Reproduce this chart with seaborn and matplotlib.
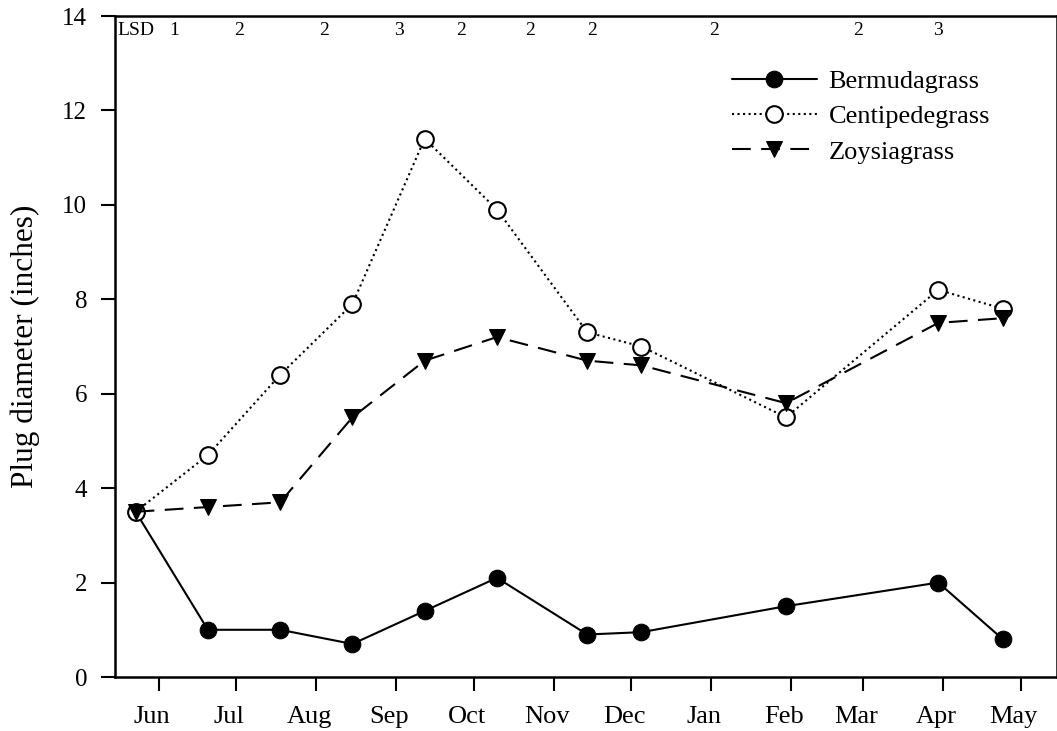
import pandas as pd
import seaborn as sns
import matplotlib.pyplot as plt
import matplotlib.dates as mdates
from matplotlib.transforms import ScaledTranslation

# sampling dates and plug diameters (inches)
sample_dates = ["2004-05-23", "2004-06-20", "2004-07-18", "2004-08-15", "2004-09-12",
                "2004-10-10", "2004-11-14", "2004-12-05", "2005-01-30", "2005-03-30",
                "2005-04-24"]
bermuda = [3.5, 1.0, 1.0, 0.7, 1.4, 2.1, 0.9, 0.95, 1.5, 2.0, 0.8]
centipede = [3.5, 4.7, 6.4, 7.9, 11.4, 9.9, 7.3, 7.0, 5.5, 8.2, 7.8]
zoysia = [3.5, 3.6, 3.7, 5.5, 6.7, 7.2, 6.7, 6.6, 5.8, 7.5, 7.6]

# LSD values printed along the top
lsd_dates = ["2004-06-07", "2004-07-02", "2004-08-04", "2004-09-02", "2004-09-26",
             "2004-10-23", "2004-11-16", "2005-01-02", "2005-02-27", "2005-03-30"]
lsd_values = [1, 2, 2, 3, 2, 2, 2, 2, 2, 3]

df = pd.DataFrame({"date": pd.to_datetime(sample_dates),
                   "Bermudagrass": bermuda,
                   "Centipedegrass": centipede,
                   "Zoysiagrass": zoysia})

sns.set_style("ticks", {'axes.edgecolor': 'black', 'text.color': 'black',
                        'xtick.color': 'black', 'ytick.color': 'black',
                        'axes.labelcolor': 'black'})
plt.rcParams['font.family'] = ['Liberation Serif', 'DejaVu Serif']

fig = plt.figure(figsize=(10.57, 7.31), dpi=100)
ax = fig.add_axes([115/1057, 1 - 677/731, 942/1057, 661/731])

sns.lineplot(data=df, x="date", y="Bermudagrass", ax=ax, color='black', linestyle='-',
             marker='o', markersize=12, markerfacecolor='black', markeredgecolor='black',
             linewidth=1.5, label="Bermudagrass")
sns.lineplot(data=df, x="date", y="Centipedegrass", ax=ax, color='black', linestyle=':',
             marker='o', markersize=12, markerfacecolor='white', markeredgecolor='black',
             markeredgewidth=1.5, linewidth=1.5, label="Centipedegrass")
sns.lineplot(data=df, x="date", y="Zoysiagrass", ax=ax, color='black', linestyle=(0, (9, 5)),
             marker='v', markersize=12, markerfacecolor='black', markeredgecolor='black',
             linewidth=1.5, label="Zoysiagrass")

ax.set_xlim(pd.Timestamp("2004-05-15"), pd.Timestamp("2005-05-15"))
ax.set_ylim(0, 14)
ax.set_yticks(range(0, 15, 2))
ax.xaxis.set_major_locator(mdates.MonthLocator(bymonthday=1))
ax.xaxis.set_major_formatter(mdates.DateFormatter('%b'))

ax.set_xlabel("")
ax.set_ylabel("Plug diameter (inches)", fontsize=22.5, labelpad=16)
ax.tick_params(axis='x', direction='out', length=10, width=1.5, labelsize=19, pad=11)
ax.tick_params(axis='y', direction='out', length=10, width=1.5, labelsize=18, pad=10)
for lab in ax.get_xticklabels():
    lab.set_transform(lab.get_transform() + ScaledTranslation(-7/100, 0, fig.dpi_scale_trans))

for side in ['top', 'bottom', 'left', 'right']:
    ax.spines[side].set_linewidth(1.8)
    ax.spines[side].set_visible(True)

ax.text(pd.Timestamp("2004-05-16"), 13.7, "LSD", fontsize=14, ha='left', va='center')
for d, v in zip(lsd_dates, lsd_values):
    ax.text(pd.Timestamp(d), 13.7, str(v), fontsize=14, ha='center', va='center')

ax.legend(loc='upper left', bbox_to_anchor=(0.63, 0.955), frameon=False, fontsize=19,
          handlelength=3.2, handletextpad=0.45, labelspacing=0.45)

fig.savefig("out.png", dpi=100)
